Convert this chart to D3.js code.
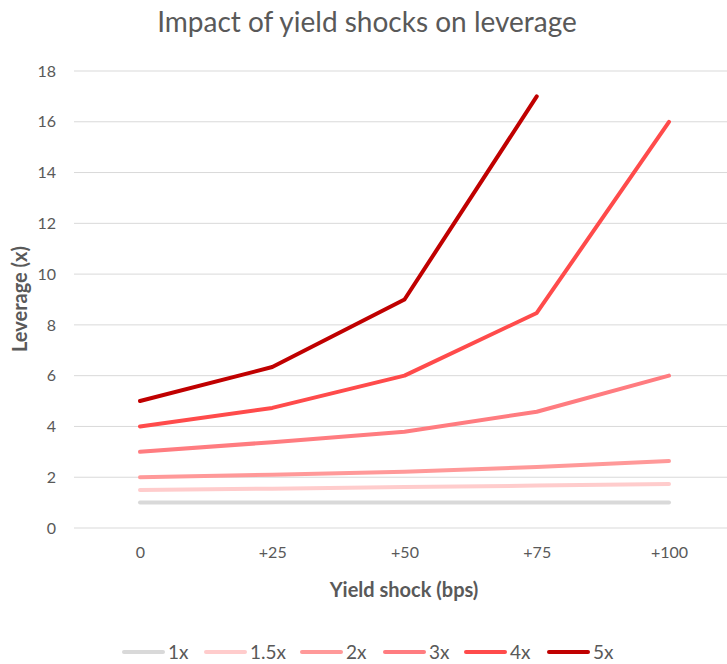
<!DOCTYPE html>
<html>
<head>
<meta charset="utf-8">
<script src="https://cdn.jsdelivr.net/npm/d3@7"></script>
<style>
  html, body { margin: 0; padding: 0; background: #fff; }
  svg { display: block; font-family: Lato, "Open Sans", sans-serif; }
</style>
</head>
<body>
<svg id="chart" width="727" height="664"></svg>
<script>
// Yield shock scenarios (bps) and resulting leverage for each starting leverage level
const shocks = ["0", "+25", "+50", "+75", "+100"];
const seriesNames = ["1x", "1.5x", "2x", "3x", "4x", "5x"];
const lev1x  = [1, 1, 1, 1, 1];
const lev15x = [1.5, 1.55, 1.61, 1.67, 1.73];
const lev2x  = [2, 2.1, 2.22, 2.4, 2.64];
const lev3x  = [3, 3.38, 3.79, 4.58, 6];
const lev4x  = [4, 4.73, 6, 8.47, 16];
const lev5x  = [5, 6.34, 9, 17, null];
const yTicks = [0, 2, 4, 6, 8, 10, 12, 14, 16, 18];
const colors = ["#d9d9d9", "#ffcccc", "#ff9999", "#ff7c80", "#ff4b4b", "#c00000"];

const series = [lev1x, lev15x, lev2x, lev3x, lev4x, lev5x].map((vals, i) => ({
  name: seriesNames[i], color: colors[i], values: vals
}));

const svg = d3.select("#chart");
const textColor = "#595959";
const font = "Lato, 'Open Sans', sans-serif";

const x = d3.scalePoint().domain(shocks).range([140, 669]);
const y = d3.scaleLinear().domain([0, 18]).range([528, 71]);

// Gridlines
svg.append("g")
  .selectAll("line")
  .data(yTicks)
  .join("line")
  .attr("x1", 74).attr("x2", 727)
  .attr("y1", d => y(d)).attr("y2", d => y(d))
  .attr("stroke", "#d9d9d9").attr("stroke-width", 1);

// Y axis labels
const yAxis = svg.append("g")
  .attr("transform", "translate(56,0)")
  .call(d3.axisLeft(y).tickValues(yTicks).tickSize(0).tickPadding(0));
yAxis.select(".domain").remove();
yAxis.selectAll("text").attr("fill", textColor).attr("font-size", 16)
  .attr("font-family", font);

// X axis labels
const xAxis = svg.append("g")
  .attr("transform", "translate(0,547)")
  .call(d3.axisBottom(x).tickSize(0).tickPadding(0));
xAxis.select(".domain").remove();
xAxis.selectAll("text").attr("fill", textColor).attr("font-size", 16)
  .attr("dy", "0.71em")
  .attr("font-family", font);

// Lines
const line = d3.line()
  .defined(d => d.v != null)
  .x(d => x(d.k))
  .y(d => y(d.v));

svg.append("g")
  .selectAll("path")
  .data(series)
  .join("path")
  .attr("d", s => line(s.values.map((v, i) => ({ k: shocks[i], v }))))
  .attr("fill", "none")
  .attr("stroke", s => s.color)
  .attr("stroke-width", 4)
  .attr("stroke-linecap", "round")
  .attr("stroke-linejoin", "round");

// Title
svg.append("text")
  .attr("x", 367).attr("y", 32)
  .attr("text-anchor", "middle")
  .attr("fill", textColor)
  .attr("font-size", 28)
  .text("Impact of yield shocks on leverage");

// Axis titles
svg.append("text")
  .attr("x", 404).attr("y", 597)
  .attr("text-anchor", "middle")
  .attr("fill", textColor)
  .attr("font-size", 20)
  .attr("font-weight", "bold")
  .text("Yield shock (bps)");

svg.append("text")
  .attr("transform", "translate(27,299) rotate(-90)")
  .attr("text-anchor", "middle")
  .attr("fill", textColor)
  .attr("font-size", 20)
  .attr("font-weight", "bold")
  .text("Leverage (x)");

// Legend
const legendX = [122, 204, 300, 383, 464, 547];
const legend = svg.append("g")
  .selectAll("g")
  .data(series)
  .join("g")
  .attr("transform", (d, i) => `translate(${legendX[i]},652)`);
legend.append("line")
  .attr("x1", 2).attr("x2", 41)
  .attr("stroke", d => d.color)
  .attr("stroke-width", 4)
  .attr("stroke-linecap", "round");
legend.append("text")
  .attr("x", 46).attr("y", 7)
  .attr("fill", textColor)
  .attr("font-size", 19)
  .text(d => d.name);
</script>
</body>
</html>
